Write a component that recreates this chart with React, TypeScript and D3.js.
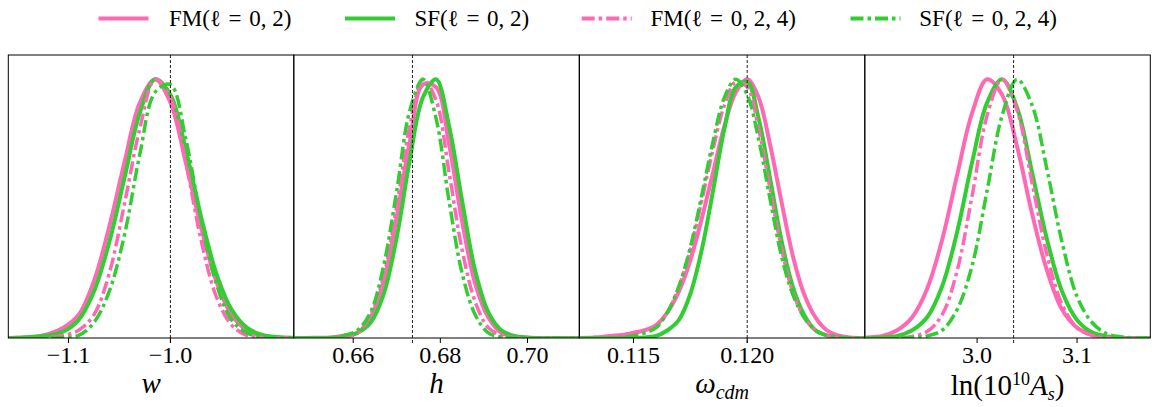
import React from "react";
import * as d3 from "d3";

// ---------- series meta ----------
const seriesLabels = ["FM(ℓ\u2004=\u20040, 2)", "SF(ℓ\u2004=\u20040, 2)", "FM(ℓ\u2004=\u20040, 2, 4)", "SF(ℓ\u2004=\u20040, 2, 4)"];
const seriesColors = ["#ff69b4", "#32cd32", "#ff69b4", "#32cd32"];
const seriesDashed = [false, false, true, true];

// ---------- panel 1: w ----------
const wGrid = [-1.165, -1.15, -1.135, -1.12, -1.105, -1.09, -1.075, -1.06, -1.045, -1.03, -1.015, -1.0, -0.985, -0.97, -0.955, -0.94, -0.925, -0.91, -0.895, -0.88, -0.865];
const wFM02 = [0, 0.001, 0.004, 0.015, 0.04, 0.09, 0.22, 0.43, 0.68, 0.91, 1.0, 0.91, 0.68, 0.43, 0.22, 0.09, 0.03, 0.01, 0.002, 0, 0];
const wSF02 = [0, 0.001, 0.005, 0.01, 0.025, 0.07, 0.18, 0.37, 0.62, 0.87, 1.0, 0.94, 0.73, 0.47, 0.25, 0.11, 0.04, 0.012, 0.004, 0.001, 0];
const wFM024 = [0, 0, 0, 0.002, 0.01, 0.03, 0.09, 0.25, 0.52, 0.81, 1.0, 0.93, 0.68, 0.38, 0.16, 0.05, 0.01, 0.002, 0, 0, 0];
const wSF024 = [0, 0, 0, 0, 0.002, 0.01, 0.06, 0.18, 0.4, 0.71, 0.95, 0.98, 0.77, 0.46, 0.21, 0.07, 0.02, 0.004, 0, 0, 0];
const wTicks = [-1.1, -1.0];
const wTickLabels = ["−1.1", "−1.0"];
const wRange = [-1.159, -0.879];
const wTruth = -1.0;

// ---------- panel 2: h ----------
const hGrid = [0.646, 0.649, 0.652, 0.655, 0.658, 0.661, 0.664, 0.667, 0.67, 0.673, 0.676, 0.679, 0.682, 0.685, 0.688, 0.691, 0.694, 0.697, 0.7, 0.703, 0.706, 0.709, 0.712];
const hFM02 = [0, 0, 0.001, 0.002, 0.01, 0.02, 0.08, 0.22, 0.47, 0.76, 0.98, 0.97, 0.75, 0.45, 0.21, 0.08, 0.02, 0.006, 0.001, 0, 0, 0, 0];
const hSF02 = [0, 0, 0, 0.001, 0.004, 0.02, 0.06, 0.17, 0.39, 0.69, 0.93, 1.0, 0.82, 0.53, 0.26, 0.1, 0.03, 0.008, 0.002, 0, 0, 0, 0];
const hFM024 = [0, 0, 0, 0.001, 0.005, 0.02, 0.09, 0.24, 0.51, 0.82, 1.0, 0.92, 0.64, 0.34, 0.14, 0.04, 0.01, 0.002, 0, 0, 0, 0, 0];
const hSF024 = [0, 0, 0, 0.001, 0.01, 0.03, 0.1, 0.28, 0.57, 0.88, 1.0, 0.85, 0.53, 0.25, 0.09, 0.02, 0.004, 0, 0, 0, 0, 0, 0];
const hTicks = [0.66, 0.68, 0.7];
const hTickLabels = ["0.66", "0.68", "0.70"];
const hRange = [0.64637, 0.71189];
const hTruth = 0.6736;

// ---------- panel 3: omega_cdm ----------
const oGrid = [0.1125, 0.113, 0.1135, 0.114, 0.1145, 0.115, 0.1155, 0.116, 0.1165, 0.117, 0.1175, 0.118, 0.1185, 0.119, 0.1195, 0.12, 0.1205, 0.121, 0.1215, 0.122, 0.1225, 0.123, 0.1235, 0.124, 0.1245, 0.125, 0.1255];
const oFM02 = [0, 0.001, 0.003, 0.008, 0.012, 0.02, 0.03, 0.05, 0.1, 0.18, 0.3, 0.46, 0.64, 0.82, 0.95, 1.0, 0.93, 0.75, 0.53, 0.32, 0.17, 0.08, 0.03, 0.01, 0.002, 0, 0];
const oSF02 = [0, 0, 0, 0, 0, 0.001, 0.002, 0.008, 0.03, 0.07, 0.17, 0.34, 0.57, 0.81, 0.97, 0.99, 0.85, 0.62, 0.38, 0.2, 0.09, 0.03, 0.01, 0.002, 0, 0, 0];
const oFM024 = [0, 0.001, 0.003, 0.007, 0.011, 0.02, 0.03, 0.05, 0.1, 0.2, 0.34, 0.53, 0.73, 0.9, 0.99, 0.97, 0.81, 0.58, 0.35, 0.18, 0.08, 0.03, 0.01, 0.002, 0, 0, 0];
const oSF024 = [0, 0, 0, 0.001, 0.003, 0.008, 0.02, 0.04, 0.1, 0.2, 0.35, 0.55, 0.76, 0.93, 1.0, 0.94, 0.77, 0.54, 0.32, 0.17, 0.08, 0.03, 0.01, 0.002, 0, 0, 0];
const oTicks = [0.115, 0.12];
const oTickLabels = ["0.115", "0.120"];
const oRange = [0.11262, 0.12517];
const oTruth = 0.12;

// ---------- panel 4: ln(10^10 A_s) ----------
const aGrid = [2.875, 2.89, 2.905, 2.92, 2.935, 2.95, 2.965, 2.98, 2.995, 3.01, 3.025, 3.04, 3.055, 3.07, 3.085, 3.1, 3.115, 3.13, 3.145, 3.16, 3.175];
const aFM02 = [0, 0.002, 0.008, 0.03, 0.08, 0.19, 0.38, 0.63, 0.87, 1.0, 0.94, 0.74, 0.48, 0.26, 0.11, 0.04, 0.012, 0.003, 0, 0, 0];
const aSF02 = [0, 0, 0.002, 0.008, 0.03, 0.08, 0.2, 0.41, 0.68, 0.91, 1.0, 0.89, 0.64, 0.38, 0.18, 0.07, 0.022, 0.006, 0.001, 0, 0];
const aFM024 = [0, 0, 0, 0.001, 0.006, 0.025, 0.09, 0.26, 0.55, 0.86, 1.0, 0.88, 0.6, 0.32, 0.13, 0.04, 0.01, 0.002, 0, 0, 0];
const aSF024 = [0, 0, 0, 0, 0.001, 0.008, 0.03, 0.11, 0.28, 0.57, 0.86, 1.0, 0.9, 0.65, 0.37, 0.16, 0.06, 0.016, 0.004, 0, 0];
const aTicks = [3.0, 3.1];
const aTickLabels = ["3.0", "3.1"];
const aRange = [2.8876, 3.1733];
const aTruth = 3.0365;

const panels = [
  { grid: wGrid, series: [wFM02, wSF02, wFM024, wSF024], ticks: wTicks, tickLabels: wTickLabels, range: wRange, truth: wTruth },
  { grid: hGrid, series: [hFM02, hSF02, hFM024, hSF024], ticks: hTicks, tickLabels: hTickLabels, range: hRange, truth: hTruth },
  { grid: oGrid, series: [oFM02, oSF02, oFM024, oSF024], ticks: oTicks, tickLabels: oTickLabels, range: oRange, truth: oTruth },
  { grid: aGrid, series: [aFM02, aSF02, aFM024, aSF024], ticks: aTicks, tickLabels: aTickLabels, range: aRange, truth: aTruth },
];

// ---------- layout ----------
const W = 1158;
const H = 407;
const left0 = 8.3;
const panelW = 285.5;
const top = 55;
const bottom = 338;
const yMax = 1.094;
const FONT = "'Liberation Serif', 'DejaVu Serif', serif";
const DASH = "13 4 3.5 4";

const legendLineX = [98.5, 345, 581.7, 850.5];
const legendLineLen = 50;
const legendTextX = [169, 414.5, 650.5, 919.3];

function AxisLabel({ i, x }: { i: number; x: number }) {
  const y = 393;
  const common = { x, y, textAnchor: "middle" as const, fontFamily: FONT, fontSize: 29, fill: "#000" };
  if (i === 0) return <text {...common} fontStyle="italic">w</text>;
  if (i === 1) return <text {...common} fontStyle="italic">h</text>;
  if (i === 2)
    return (
      <text {...common}>
        <tspan fontStyle="italic">ω</tspan>
        <tspan fontStyle="italic" fontSize={20} dy={6}>cdm</tspan>
      </text>
    );
  return (
    <text {...common} y={395}>
      <tspan>ln(10</tspan>
      <tspan fontSize={18} dy={-10}>10</tspan>
      <tspan fontStyle="italic" dy={10}>A</tspan>
      <tspan fontStyle="italic" fontSize={18} dy={5}>s</tspan>
      <tspan dy={-5}>)</tspan>
    </text>
  );
}

export default function App() {
  const y = d3.scaleLinear().domain([0, yMax]).range([bottom, top]);
  return (
    <svg width={W} height={H} style={{ position: "absolute", left: 0, top: 0, background: "#fff" }}>
      <rect x={0} y={0} width={W} height={H} fill="#fff" />
      <defs>
        {panels.map((p, i) => (
          <clipPath id={`clip${i}`} key={i}>
            <rect x={left0 + i * panelW} y={top} width={panelW} height={bottom - top} />
          </clipPath>
        ))}
      </defs>
      {panels.map((p, i) => {
        const x0 = left0 + i * panelW;
        const x = d3.scaleLinear().domain(p.range).range([x0, x0 + panelW]);
        const line = d3
          .line<number>()
          .x((_, k) => x(p.grid[k]))
          .y((d) => y(d))
          .curve(d3.curveCatmullRom.alpha(0.5));
        return (
          <g key={i}>
            <g clipPath={`url(#clip${i})`}>
              {p.series.map((s, j) => (
                <path
                  key={j}
                  d={line(s) || ""}
                  fill="none"
                  stroke={seriesColors[j]}
                  strokeWidth={seriesDashed[j] ? 3.5 : 4}
                  strokeDasharray={seriesDashed[j] ? DASH : undefined}
                  strokeLinejoin="round"
                />
              ))}
            </g>
            <line x1={x(p.truth)} x2={x(p.truth)} y1={top} y2={bottom + 6} stroke="#222" strokeWidth={1} strokeDasharray="3 2" />
            <rect x={x0} y={top} width={panelW} height={bottom - top} fill="none" stroke="#000" strokeWidth={1} />
            {p.ticks.map((t, k) => (
              <g key={k}>
                <line x1={x(t)} x2={x(t)} y1={bottom} y2={bottom + 5} stroke="#000" strokeWidth={1} />
                <text x={x(t)} y={363} textAnchor="middle" fontFamily={FONT} fontSize={24} fill="#000">
                  {p.tickLabels[k]}
                </text>
              </g>
            ))}
            <AxisLabel i={i} x={x0 + panelW / 2} />
          </g>
        );
      })}
      {seriesLabels.map((lab, j) => (
        <g key={j}>
          <line
            x1={legendLineX[j]}
            x2={legendLineX[j] + legendLineLen}
            y1={18.6}
            y2={18.6}
            stroke={seriesColors[j]}
            strokeWidth={4}
            strokeDasharray={seriesDashed[j] ? DASH : undefined}
          />
          <text x={legendTextX[j]} y={26} fontFamily={FONT} fontSize={23} fill="#000">
            {lab}
          </text>
        </g>
      ))}
    </svg>
  );
}
